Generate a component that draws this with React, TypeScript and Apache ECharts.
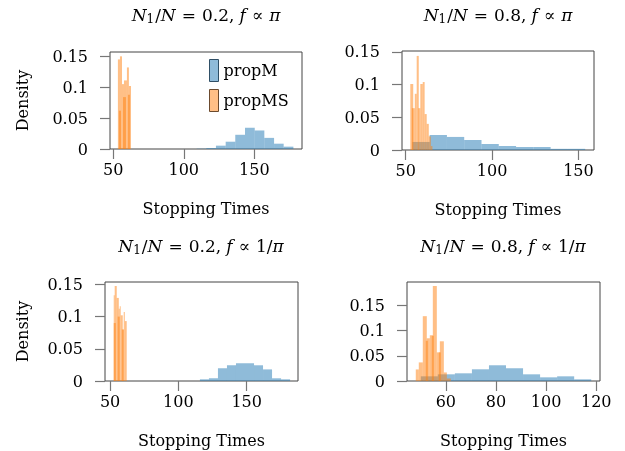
import React, { useEffect, useRef } from "react";
import * as echarts from "echarts";

// ---------- data ----------
// Panel 1: N1/N = 0.2, f ∝ π
const p1BlueEdges = [109.1, 116.0, 122.8, 129.7, 136.5, 143.4, 150.3, 157.1, 164.0, 170.8, 177.7];
const p1BlueDensity = [0.0005, 0.0016, 0.0054, 0.0118, 0.023, 0.0344, 0.030, 0.018, 0.0086, 0.0038];
const p1Orange = [
  [53.3, 54.75, 0.145], [54.75, 56.2, 0.15], [56.2, 57.6, 0.105], [57.6, 59.7, 0.111],
  [59.7, 61.1, 0.132], [61.1, 62.6, 0.102], [54.0, 55.5, 0.062], [56.9, 59.0, 0.084], [60.4, 61.8, 0.088],
];
// Panel 2: N1/N = 0.8, f ∝ π
const p2BlueEdges = [53.9, 63.9, 73.9, 83.9, 93.9, 103.9, 113.9, 123.9, 133.9, 143.9, 153.9];
const p2BlueDensity = [0.0123, 0.023, 0.020, 0.0153, 0.0092, 0.0061, 0.0046, 0.0046, 0.0018, 0.0018];
const p2Orange = [
  [52.7, 54.4, 0.101], [53.6, 55.3, 0.064], [55.3, 56.4, 0.086], [56.4, 57.6, 0.144],
  [57.3, 58.5, 0.064], [58.5, 59.9, 0.101], [59.9, 61.0, 0.104], [61.0, 62.2, 0.055],
  [62.2, 63.4, 0.04], [63.4, 64.6, 0.021], [64.6, 65.5, 0.006],
];
// Panel 3: N1/N = 0.2, f ∝ 1/π
const p3BlueEdges = [115.8, 122.4, 129.0, 135.6, 142.2, 148.8, 155.4, 162.0, 168.6, 175.2, 181.8];
const p3BlueDensity = [0.0026, 0.0042, 0.0197, 0.0244, 0.0275, 0.0275, 0.0244, 0.018, 0.0042, 0.0026];
const p3Orange = [
  [52.7, 53.4, 0.133], [53.4, 54.9, 0.1475], [54.9, 56.4, 0.129], [56.4, 57.1, 0.112],
  [57.1, 57.8, 0.116], [57.8, 59.3, 0.102], [59.3, 60.0, 0.08], [60.0, 60.8, 0.107],
  [60.8, 62.2, 0.093], [52.7, 54.2, 0.09], [55.6, 57.1, 0.1], [58.6, 60.0, 0.08],
];
// Panel 4: N1/N = 0.8, f ∝ 1/π
const p4BlueEdges = [50.0, 56.8, 63.6, 70.4, 77.2, 84.0, 90.8, 97.6, 104.4, 111.2, 118.0];
const p4BlueDensity = [0.0093, 0.0133, 0.0153, 0.0233, 0.0313, 0.0253, 0.0133, 0.0073, 0.0093, 0.0033];
const p4Orange = [
  [48.0, 49.2, 0.023], [49.2, 50.8, 0.037], [50.8, 52.4, 0.129], [52.4, 53.6, 0.085],
  [53.6, 54.8, 0.091], [54.8, 56.4, 0.189], [56.4, 57.6, 0.057], [57.6, 59.2, 0.079],
  [59.2, 60.4, 0.017], [60.4, 62.0, 0.005], [52.0, 52.8, 0.08], [54.4, 55.2, 0.09], [57.2, 58.0, 0.057],
];

const xTicksA = [50, 100, 150];
const xTicksB = [60, 80, 100, 120];
const yTicks = [0, 0.05, 0.1, 0.15];
const ratios = ["0.2", "0.8", "0.2", "0.8"];
const fLabels = ["π", "π", "1/π", "1/π"];

// ---------- layout / style ----------
const FONT = "'DejaVu Serif', 'Liberation Serif', serif";
const BLUE = "rgba(31,119,180,0.5)";
const ORANGE = "rgba(255,127,14,0.5)";

const panels = [
  { blueE: p1BlueEdges, blueD: p1BlueDensity, orange: p1Orange, xTicks: xTicksA, xmin: 47.7, xmax: 183.8, ymax: 0.157,
    grid: { left: 110, top: 52, width: 192, height: 97 }, density: true, nameGapY: 80, titleX: 206, titleY: 15 },
  { blueE: p2BlueEdges, blueD: p2BlueDensity, orange: p2Orange, xTicks: xTicksA, xmin: 47.9, xmax: 159.0, ymax: 0.1515,
    grid: { left: 402, top: 51, width: 192, height: 99 }, density: false, nameGapY: 80, titleX: 498, titleY: 15 },
  { blueE: p3BlueEdges, blueD: p3BlueDensity, orange: p3Orange, xTicks: xTicksA, xmin: 46.3, xmax: 187.6, ymax: 0.1537,
    grid: { left: 105, top: 282, width: 193, height: 99 }, density: true, nameGapY: 75, titleX: 201, titleY: 246 },
  { blueE: p4BlueEdges, blueD: p4BlueDensity, orange: p4Orange, xTicks: xTicksB, xmin: 44.5, xmax: 121.5, ymax: 0.197,
    grid: { left: 407, top: 282, width: 193, height: 99 }, density: false, nameGapY: 80, titleX: 503, titleY: 246 },
];

const textStyle = { fontFamily: FONT, fontSize: 16, color: "#000" };

function renderBar(fill: string) {
  return (params: any, api: any) => {
    const x0 = api.value(0);
    const x1 = api.value(1);
    const y = api.value(2);
    const a = api.coord([x0, y]);
    const b = api.coord([x1, 0]);
    return {
      type: "rect",
      shape: { x: a[0], y: a[1], width: b[0] - a[0], height: b[1] - a[1] },
      style: { fill },
    };
  };
}

export default function App() {
  const ref = useRef<HTMLDivElement>(null);
  useEffect(() => {
    if (!ref.current) return;
    const chart = echarts.init(ref.current, undefined, { renderer: "svg" });
    const grids: any[] = [];
    const xAxes: any[] = [];
    const yAxes: any[] = [];
    const series: any[] = [];
    const graphics: any[] = [];
    panels.forEach((p, i) => {
      grids.push({ ...p.grid, show: true, borderColor: "#444", borderWidth: 1, backgroundColor: "transparent" });
      xAxes.push({
        type: "value", gridIndex: i, min: p.xmin, max: p.xmax,
        axisLine: { show: false }, splitLine: { show: false },
        axisTick: { show: true, length: 10, customValues: p.xTicks, lineStyle: { color: "#777", width: 1.2 } },
        axisLabel: { customValues: p.xTicks, margin: 12, ...textStyle },
        name: "Stopping Times", nameLocation: "middle", nameGap: 51, nameTextStyle: textStyle,
      });
      yAxes.push({
        type: "value", gridIndex: i, min: 0, max: p.ymax,
        axisLine: { show: false }, splitLine: { show: false },
        axisTick: { show: true, length: 10, customValues: yTicks, lineStyle: { color: "#777", width: 1.2 } },
        axisLabel: { customValues: yTicks, margin: 22, ...textStyle },
        name: p.density ? "Density" : "", nameLocation: "middle", nameGap: p.nameGapY, nameTextStyle: textStyle,
      });
      series.push({
        type: "custom", name: "propM", xAxisIndex: i, yAxisIndex: i,
        renderItem: renderBar(BLUE), encode: { x: [0, 1], y: 2 },
        itemStyle: { color: BLUE },
        data: p.blueD.map((d, k) => [p.blueE[k], p.blueE[k + 1], d]),
      });
      series.push({
        type: "custom", name: "propMS", xAxisIndex: i, yAxisIndex: i,
        renderItem: renderBar(ORANGE), encode: { x: [0, 1], y: 2 },
        itemStyle: { color: ORANGE },
        data: p.orange,
      });
      graphics.push({
        type: "text", x: p.titleX, y: p.titleY,
        style: {
          text: `{i|N}{s|1}{r|/}{i|N}{o|=}{c|${ratios[i]},}{i|f}{o|∝}` + (fLabels[i] === "π" ? "{i|π}" : "{r|1/}{i|π}"),
          align: "center", verticalAlign: "middle", textAlign: "center", textVerticalAlign: "middle",
          rich: {
            i: { fontFamily: FONT, fontSize: 17, fontStyle: "italic", lineHeight: 20 },
            r: { fontFamily: FONT, fontSize: 17, lineHeight: 20 },
            c: { fontFamily: FONT, fontSize: 17, lineHeight: 20, padding: [0, 5, 0, 0] },
            o: { fontFamily: FONT, fontSize: 17, lineHeight: 20, padding: [0, 6, 0, 6] },
            s: { fontFamily: FONT, fontSize: 12, lineHeight: 12, verticalAlign: "bottom", padding: [0, 1, 0, 0] },
          },
        },
      });
    });
    chart.setOption({
      animation: false,
      grid: grids,
      xAxis: xAxes,
      yAxis: yAxes,
      series,
      graphic: graphics,
      legend: {
        data: [
          { name: "propM", itemStyle: { color: "#8fbbd9", borderColor: "#2f4f66", borderWidth: 1 } },
          { name: "propMS", itemStyle: { color: "#ffbf86", borderColor: "#6b4a2e", borderWidth: 1 } },
        ],
        orient: "vertical", left: 209, top: 59, padding: 0, itemWidth: 9, itemHeight: 22, itemGap: 7,
        icon: "rect", selectedMode: false, textStyle: { ...textStyle },
      },
    });
    return () => chart.dispose();
  }, []);
  return <div ref={ref} style={{ position: "fixed", left: 0, top: 0, width: 625, height: 451 }} />;
}
